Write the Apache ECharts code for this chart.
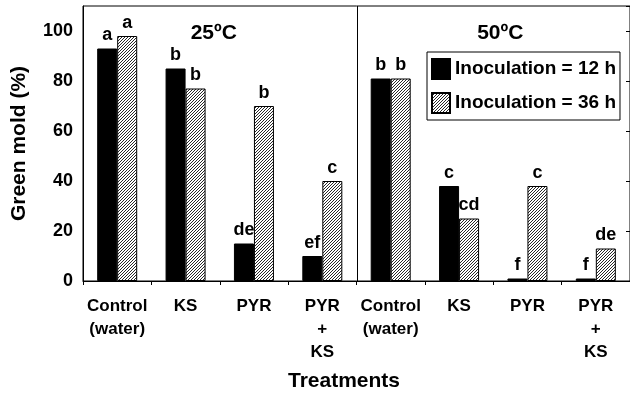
<!DOCTYPE html>
<html>
<head>
<meta charset="utf-8">
<script src="https://cdn.jsdelivr.net/npm/echarts@6/dist/echarts.min.js"></script>
<style>
  html, body { margin: 0; padding: 0; background: #fff; }
  #chart { width: 630px; height: 397px; }
</style>
</head>
<body>
<div id="chart"></div>
<script>
// Treatments for each storage temperature block (25ºC then 50ºC)
const categories = [
  'Control\n(water)', 'KS', 'PYR', 'PYR\n+\nKS',
  'Control\n(water)', 'KS', 'PYR', 'PYR\n+\nKS'
];
const temperatureLabels = ['25ºC', '50ºC'];
const seriesNames = ['Inoculation = 12 h', 'Inoculation = 36 h'];

// Green mold incidence (%)
const mold12h = [93, 85, 15, 10, 81, 38, 1, 1];
const mold36h = [98, 77, 70, 40, 81, 25, 38, 13];

// Mean separation letters
const letters12h = ['a', 'b', 'de', 'ef', 'b', 'c', 'f', 'f'];
const letters36h = ['a', 'b', 'b', 'c', 'b', 'cd', 'c', 'de'];

const yTicks = [0, 20, 40, 60, 80, 100];

const FONT = '"Liberation Sans", Arial, Helvetica, sans-serif';

// Diagonal hatch fill (////)
function makeHatch() {
  const c = document.createElement('canvas');
  c.width = 3; c.height = 3;
  const ctx = c.getContext('2d');
  const img = ctx.createImageData(3, 3);
  for (let y = 0; y < 3; y++) {
    for (let x = 0; x < 3; x++) {
      const i = (y * 3 + x) * 4;
      const dark = (x + y) % 3 === 2;
      const v = dark ? 40 : 255;
      img.data[i] = v; img.data[i + 1] = v; img.data[i + 2] = v; img.data[i + 3] = 255;
    }
  }
  ctx.putImageData(img, 0, 0);
  return c;
}
const hatch = makeHatch();

const chart = echarts.init(document.getElementById('chart'), null, { renderer: 'canvas' });

const labelStyle = {
  show: true,
  position: 'top',
  distance: 4,
  color: '#000',
  fontFamily: FONT,
  fontWeight: 'bold',
  fontSize: 18
};

const tempTextStyle = {
  fontFamily: FONT, fontWeight: 'bold', fontSize: 21, fill: '#000',
  textAlign: 'center', textVerticalAlign: 'middle'
};

chart.setOption({
  animation: false,
  backgroundColor: '#fff',
  textStyle: { fontFamily: FONT },
  grid: {
    left: 83, right: 0, top: 6, bottom: 115,
    show: true, borderColor: '#000', borderWidth: 1, backgroundColor: 'transparent'
  },
  legend: {
    orient: 'vertical',
    left: 427, top: 52,
    padding: [6, 4, 6, 4],
    itemWidth: 18, itemHeight: 20, itemGap: 12,
    borderColor: '#000', borderWidth: 1,
    icon: 'rect',
    textStyle: { fontFamily: FONT, fontWeight: 'bold', fontSize: 19, lineHeight: 20, color: '#000' },
    data: seriesNames
  },
  xAxis: {
    type: 'category',
    data: categories,
    boundaryGap: true,
    name: 'Treatments',
    nameLocation: 'middle',
    nameGap: 90,
    nameTextStyle: { fontFamily: FONT, fontWeight: 'bold', fontSize: 21, color: '#000', padding: [0, 25, 0, 0] },
    axisLine: { lineStyle: { color: '#000', width: 1 } },
    axisTick: { show: true, length: 4, inside: false, lineStyle: { color: '#000' } },
    axisLabel: {
      interval: 0, margin: 14, color: '#000',
      fontFamily: FONT, fontWeight: 'bold', fontSize: 17, lineHeight: 23
    },
    splitLine: { show: false }
  },
  yAxis: [{
    type: 'value',
    min: 0, max: 110, interval: 20,
    name: 'Green mold (%)',
    nameLocation: 'middle',
    nameGap: 53,
    nameTextStyle: { fontFamily: FONT, fontWeight: 'bold', fontSize: 21, color: '#000' },
    axisLine: { show: true, lineStyle: { color: '#000' } },
    axisTick: { show: false },
    axisLabel: {
      showMaxLabel: false, margin: 10, color: '#000',
      fontFamily: FONT, fontWeight: 'bold', fontSize: 18,
      formatter: v => (yTicks.indexOf(v) >= 0 ? String(v) : '')
    },
    splitLine: { show: false }
  }, {
    type: 'value',
    position: 'right',
    min: 0, max: 110, interval: 20,
    axisLine: { show: false },
    axisTick: { show: true, inside: true, length: 4, lineStyle: { color: '#000' } },
    axisLabel: { show: false },
    splitLine: { show: false }
  }],
  series: [
    {
      name: seriesNames[0],
      type: 'bar',
      data: mold12h,
      barWidth: 20,
      barGap: '0%',
      itemStyle: { color: '#000', borderColor: '#000', borderWidth: 1 },
      label: Object.assign({}, labelStyle, { formatter: p => letters12h[p.dataIndex] })
    },
    {
      name: seriesNames[1],
      type: 'bar',
      data: mold36h,
      barWidth: 20,
      barGap: '0%',
      itemStyle: { color: { image: hatch, repeat: 'repeat' }, borderColor: '#000', borderWidth: 1 },
      label: Object.assign({}, labelStyle, { formatter: p => letters36h[p.dataIndex] })
    }
  ]
});

// Divider between the two temperature blocks, and the block titles,
// placed from the category axis scale.
const xOf = i => chart.convertToPixel({ xAxisIndex: 0 }, i);
const yTop = chart.convertToPixel({ yAxisIndex: 0 }, 110);
const yBase = chart.convertToPixel({ yAxisIndex: 0 }, 0);
const divX = Math.round((xOf(3) + xOf(4)) / 2) + 0.5;
const titleY = chart.convertToPixel({ yAxisIndex: 0 }, 99);

chart.setOption({
  graphic: [
    {
      type: 'line', silent: true,
      shape: { x1: divX, y1: yTop, x2: divX, y2: yBase },
      style: { stroke: '#000', lineWidth: 1 }
    },
    {
      type: 'text', silent: true,
      x: (xOf(1) + xOf(2)) / 2 - 6, y: titleY,
      style: Object.assign({ text: temperatureLabels[0] }, tempTextStyle)
    },
    {
      type: 'text', silent: true,
      x: (xOf(5) + xOf(6)) / 2 + 7, y: titleY,
      style: Object.assign({ text: temperatureLabels[1] }, tempTextStyle)
    }
  ]
});
</script>
</body>
</html>
